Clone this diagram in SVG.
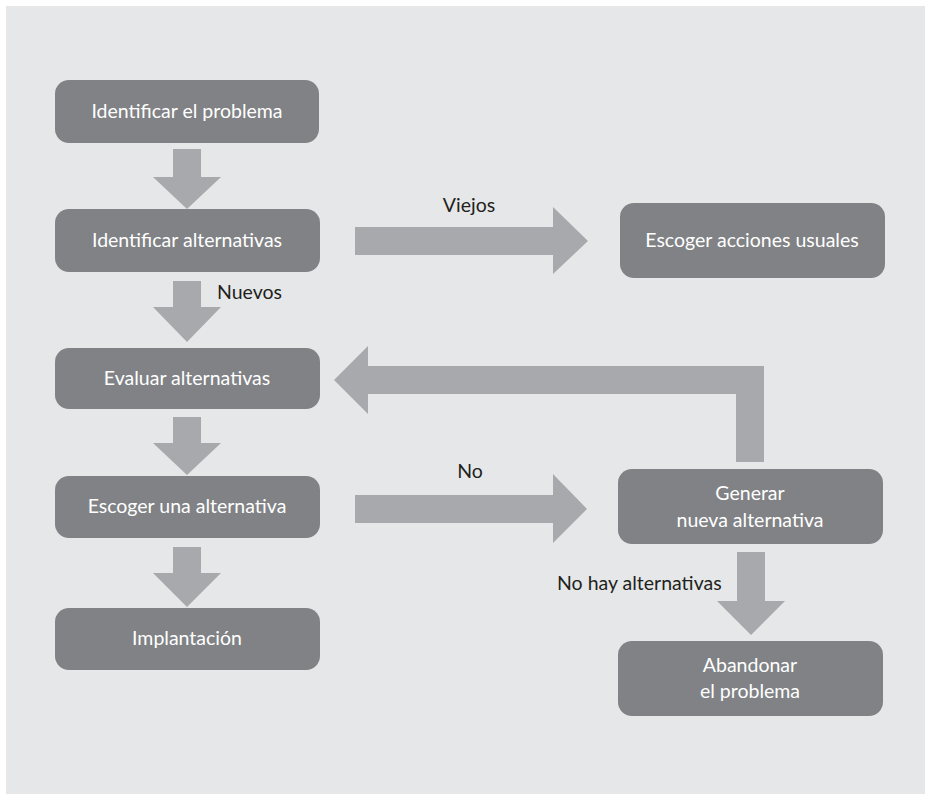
<svg xmlns="http://www.w3.org/2000/svg" width="925" height="796" viewBox="0 0 925 796">
<style>
.node{fill:#808285}
.nt{fill:#ffffff;font-family:Lato,"Open Sans",sans-serif;font-size:19.5px;text-anchor:middle}
.arr{fill:#a7a9ac}
.lbl{fill:#231f20;font-family:Lato,"Open Sans",sans-serif;font-size:19.5px}
</style>
<rect x="0" y="0" width="925" height="796" fill="#ffffff"/>
<rect x="6" y="6" width="919" height="788" fill="#e6e7e8"/>
<g id="connectors">
<polygon class="arr" points="173,149 201,149 201,177 221,177 187,209 153,177 173,177"/>
<polygon class="arr" points="173,281 201,281 201,307 221,307 187,342 153,307 173,307"/>
<polygon class="arr" points="173,417 201,417 201,443 221,443 187,475 153,443 173,443"/>
<polygon class="arr" points="173,547 201,547 201,573 221,573 187,607 153,573 173,573"/>
<polygon class="arr" points="355,227 553,227 553,207 588,241 553,274 553,255 355,255"/>
<polygon class="arr" points="355,495 553,495 553,474 587,509 553,543 553,523 355,523"/>
<polygon class="arr" points="334,380 368,346 368,366 764,366 764,462 736,462 736,394 368,394 368,414"/>
<polygon class="arr" points="737,552 765,552 765,601 785,601 751,635 717,601 737,601"/>
<text class="lbl" x="469" y="212" text-anchor="middle">Viejos</text>
<text class="lbl" x="217" y="299">Nuevos</text>
<text class="lbl" x="470" y="478" text-anchor="middle">No</text>
<text class="lbl" x="557" y="590">No hay alternativas</text>
</g>
<g id="n1"><rect class="node" x="55" y="80" width="264" height="63" rx="14"/><text class="nt" x="187" y="118">Identificar el problema</text></g>
<g id="n2"><rect class="node" x="55" y="209" width="265" height="63" rx="14"/><text class="nt" x="187" y="247">Identificar alternativas</text></g>
<g id="n3"><rect class="node" x="55" y="348" width="265" height="61" rx="14"/><text class="nt" x="187" y="385">Evaluar alternativas</text></g>
<g id="n4"><rect class="node" x="55" y="476" width="265" height="62" rx="14"/><text class="nt" x="187" y="513">Escoger una alternativa</text></g>
<g id="n5"><rect class="node" x="55" y="608" width="265" height="62" rx="14"/><text class="nt" x="187" y="645">Implantación</text></g>
<g id="n6"><rect class="node" x="620" y="203" width="265" height="75" rx="14"/><text class="nt" x="752" y="247">Escoger acciones usuales</text></g>
<g id="n7"><rect class="node" x="618" y="469" width="265" height="75" rx="14"/><text class="nt" x="750" y="500">Generar</text><text class="nt" x="750" y="527">nueva alternativa</text></g>
<g id="n8"><rect class="node" x="618" y="641" width="265" height="75" rx="14"/><text class="nt" x="750" y="672">Abandonar</text><text class="nt" x="750" y="698">el problema</text></g>
</svg>
